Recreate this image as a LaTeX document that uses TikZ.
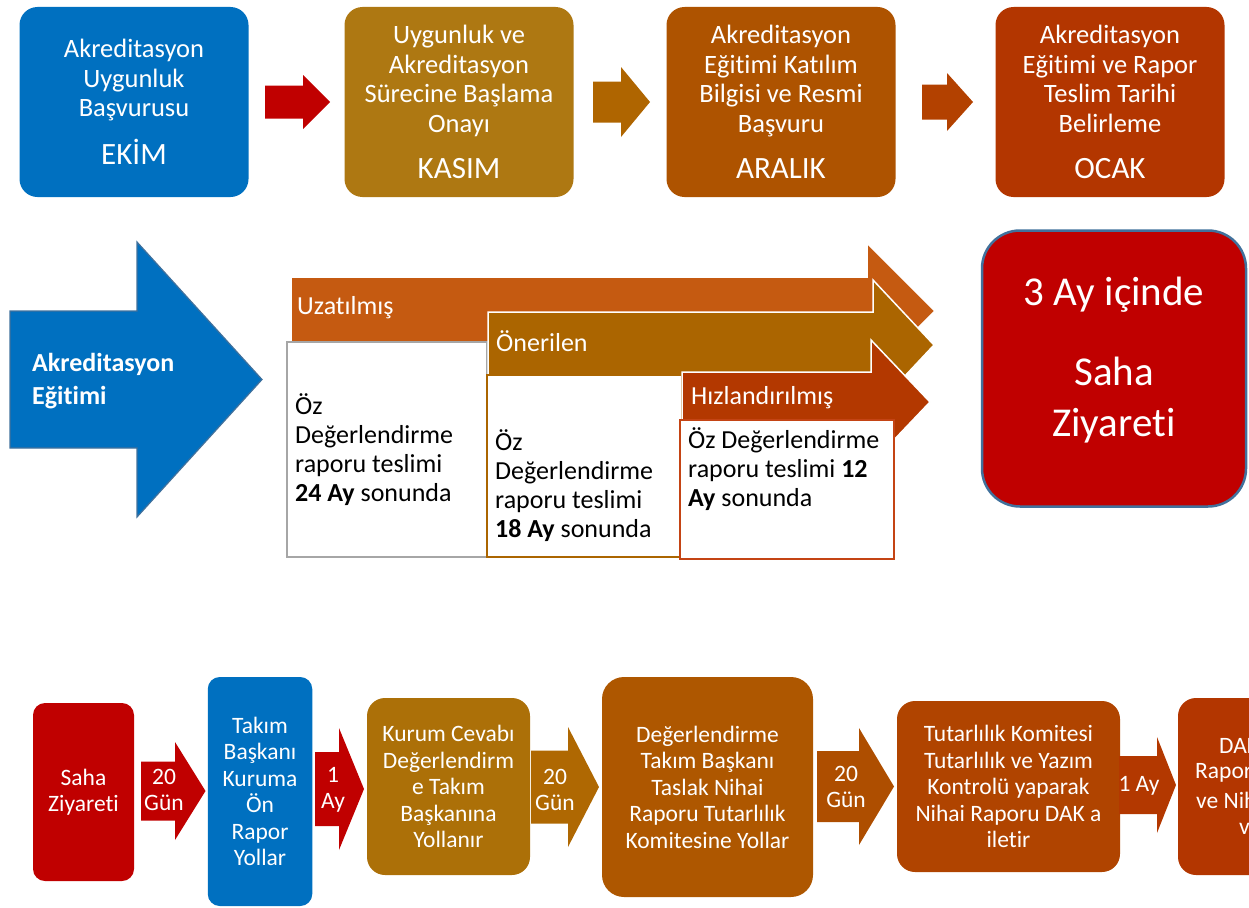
\documentclass[tikz,border=0pt]{standalone}
\usepackage{fontspec}
\setmainfont{Carlito}[Ligatures=NoCommon]
\usepackage{tikz}

\definecolor{ablue}{RGB}{0,112,192}
\definecolor{ared}{RGB}{192,0,0}
\definecolor{agold}{RGB}{174,120,18}
\definecolor{abrown}{RGB}{175,101,0}
\definecolor{aorange}{RGB}{174,83,0}
\definecolor{arust}{RGB}{179,65,0}
\definecolor{ared2}{RGB}{179,54,0}
\definecolor{kgold}{RGB}{172,112,8}
\definecolor{kbrown}{RGB}{175,104,2}
\definecolor{dbrown}{RGB}{174,87,0}
\definecolor{darrow}{RGB}{174,78,0}
\definecolor{tbrown}{RGB}{176,68,0}
\definecolor{tarrow}{RGB}{179,56,0}
\definecolor{uzat}{RGB}{197,90,17}
\definecolor{oner}{RGB}{171,101,0}
\definecolor{hizl}{RGB}{179,56,0}
\definecolor{hizledge}{RGB}{196,68,20}
\definecolor{lgray}{RGB}{166,166,166}
\definecolor{edge}{RGB}{65,113,156}

% colour, x start, x head, x tip, y centre, half shaft, half head
\newcommand{\blockarrow}[7]{\fill[#1] (#2,#5-#6) -- (#3,#5-#6) -- (#3,#5-#7) -- (#4,#5)
  -- (#3,#5+#7) -- (#3,#5+#6) -- (#2,#5+#6) -- cycle;}
\newcommand{\donem}[1]{{\fontsize{31}{29.5}\selectfont #1}}

\begin{document}
\begin{tikzpicture}[x=1pt, y=-1pt,
    stepbox/.style={rectangle, rounded corners=#1, text=white, align=center, inner sep=0pt},
    stepbox/.default=18pt,
    toptext/.style={font=\fontsize{26.5}{29.5}\selectfont},
    lowtext/.style={font=\fontsize{23.5}{26.5}\selectfont, text=white, align=center},
    midtext/.style={font=\fontsize{26}{29}\selectfont, align=left, inner sep=0pt}]
\useasboundingbox (0,0) rectangle (1249,907);
\clip (0,0) rectangle (1249,907);

% top row
\node[stepbox, toptext, fill=ablue, minimum width = 229pt,
    minimum height = 190pt](r1) at (134,102){Akreditasyon\\Uygunluk\\Başvurusu\\[17pt]\donem{EKİM}};
\blockarrow{ared}{265}{303}{330}{102}{16.5}{27}
\node[stepbox, toptext, fill=agold, minimum width = 229pt,
    minimum height = 190pt](r2) at (459,102){Uygunluk ve\\Akreditasyon\\Sürecine Başlama\\Onayı\\[17pt]\donem{KASIM}};
\blockarrow{abrown}{593}{621}{650}{102}{20.5}{35}
\node[stepbox, toptext, fill=aorange, minimum width = 229pt,
    minimum height = 190pt](r3) at (781,102){Akreditasyon\\Eğitimi Katılım\\Bilgisi ve Resmi\\Başvuru\\[17pt]\donem{ARALIK}};
\blockarrow{arust}{922}{947}{973}{102}{17.5}{29}
\node[stepbox, toptext, fill=ared2, minimum width = 229pt,
    minimum height = 190pt](r4) at (1110,102){Akreditasyon\\Eğitimi ve Rapor\\Teslim Tarihi\\Belirleme\\[17pt]\donem{OCAK}};

% middle
\filldraw[fill=ablue, draw=edge, line width=1.2pt] (10,311) -- (137,311) -- (137,242) -- (262,379.5)
  -- (137,517) -- (137,448) -- (10,448) -- cycle;
\node[midtext, text=white, anchor=west, font=\fontsize{26}{33}\selectfont\bfseries](ae) at (32,381){Akreditasyon\\Eğitimi};

\filldraw[fill=uzat, draw=white, line width=1.5pt] (291,277) -- (867,277) -- (867,243) -- (935,311)
  -- (867,379) -- (867,345) -- (291,345) -- cycle;
\node[rectangle, draw=lgray, line width=2pt, fill=white, minimum width = 200pt,
    minimum height = 215pt](wa) at (387,449.5){};
\node[midtext, anchor=north west](ta) at (295,393){Öz\\Değerlendirme\\raporu teslimi\\\textbf{24 Ay} sonunda};

\filldraw[fill=oner, draw=white, line width=1.5pt] (488,312) -- (873,312) -- (873,280) -- (934,345)
  -- (873,410) -- (873,378) -- (488,378) -- cycle;
\node[rectangle, draw=oner, line width=2pt, fill=white, minimum width = 195pt,
    minimum height = 182pt](wb) at (584.5,466){};
\node[midtext, anchor=north west](tb) at (495,429){Öz\\Değerlendirme\\raporu teslimi\\\textbf{18 Ay} sonunda};

\filldraw[fill=hizl, draw=white, line width=1.5pt] (682,372) -- (871,372) -- (871,340) -- (930,402)
  -- (871,464) -- (871,432) -- (682,432) -- cycle;
\node[rectangle, draw=hizledge, line width=2pt, fill=white, minimum width = 214pt,
    minimum height = 139pt](wc) at (787,489.5){};
\node[midtext, anchor=north west](tc) at (688,427){Öz Değerlendirme\\raporu teslimi \textbf{12}\\\textbf{Ay} sonunda};

\node[midtext, text=white, anchor=west](lu) at (297,308){Uzatılmış};
\node[midtext, text=white, anchor=west](lo) at (496,341){Önerilen};
\node[midtext, text=white, anchor=west](lh) at (691,398){Hızlandırılmış};

\node[stepbox=38pt, fill=ared, draw=edge, line width=2.5pt, minimum width = 264pt,
    minimum height = 276pt](sz) at (1114,368.5){};
\node[text=white, align=center, inner sep=0pt, font=\fontsize{41}{51}\selectfont](st) at (1114,360){3 Ay içinde\\[29pt]Saha\\Ziyareti};

% bottom row
\node[stepbox=12pt, lowtext, fill=ared, minimum width = 101pt,
    minimum height = 178pt](b1) at (83.5,792){Saha\\Ziyareti};
\blockarrow{ared}{141}{175}{205.5}{791}{29.5}{49}
\node[lowtext](g1) at (164,790){20\\Gün};
\node[stepbox=12pt, lowtext, fill=ablue, minimum width = 104.5pt,
    minimum height = 229pt](b2) at (260,791.5){Takım\\Başkanı\\Kuruma\\Ön\\Rapor\\Yollar};
\blockarrow{ared}{315}{339}{364}{789}{37}{61}
\node[lowtext](g2) at (333,790){1\\Ay};
\node[stepbox, lowtext, fill=kgold, minimum width = 163pt,
    minimum height = 177pt](b3) at (448.5,786.5){Kurum Cevabı\\Değerlendirm\\e Takım\\Başkanına\\Yollanır};
\blockarrow{kbrown}{531}{568}{599}{787}{36.5}{60}
\node[lowtext](g3) at (555,790){20\\Gün};
\node[stepbox=22pt, lowtext, fill=dbrown, minimum width = 211pt,
    minimum height = 220pt](b4) at (707.5,787){Değerlendirme\\Takım Başkanı\\Taslak Nihai\\Raporu Tutarlılık\\Komitesine Yollar};
\blockarrow{darrow}{817}{859}{894}{786.5}{35.5}{58.5}
\node[lowtext](g4) at (846,787){20\\Gün};
\node[stepbox, lowtext, fill=tbrown, minimum width = 223pt,
    minimum height = 171pt](b5) at (1008.5,786.5){Tutarlılık Komitesi\\Tutarlılık ve Yazım\\Kontrolü yaparak\\Nihai Raporu DAK a\\iletir};
\blockarrow{tarrow}{1119}{1157}{1176}{785}{29}{48}
\node[lowtext](g5) at (1139,786){1 Ay};
\node[stepbox, lowtext, fill=ared2, minimum width = 222pt,
    minimum height = 177pt](b6) at (1289,786.5){};
\node[lowtext, anchor=west, inner sep=0pt](d1) at (1219,746){DAK};
\node[lowtext, anchor=west, inner sep=0pt](d2) at (1195,773){Raporu};
\node[lowtext, anchor=west, inner sep=0pt](d3) at (1196,800){ve Nihai};
\node[lowtext, anchor=west, inner sep=0pt](d4) at (1239,826){verir};
\end{tikzpicture}
\end{document}
